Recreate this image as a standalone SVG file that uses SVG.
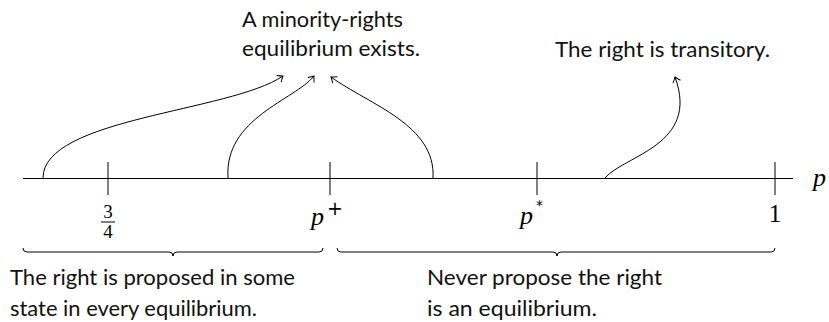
<svg xmlns="http://www.w3.org/2000/svg" width="829" height="322" viewBox="0 0 829 322">
<style>
.ln{stroke:#000;stroke-width:1;fill:none}
.lbl{font-family:Lato,"Open Sans","Liberation Sans",sans-serif;font-size:21px;fill:#111}
.m{font-family:"Liberation Serif","DejaVu Serif",serif;font-style:italic;font-size:26px;fill:#000}
.n{font-family:"Liberation Serif","DejaVu Serif",serif;font-size:25px;fill:#000}
.f{font-family:"Liberation Serif","DejaVu Serif",serif;font-size:19px;fill:#000}
.sup{font-family:"DejaVu Sans","Liberation Sans",sans-serif;fill:#000}
</style>
<defs>
<marker id="ah" viewBox="-7 -6 9 12" refX="0" refY="0" markerWidth="9" markerHeight="12" markerUnits="userSpaceOnUse" orient="auto">
<path d="M-5,-4 Q-1.8,-1.2 0,0 Q-1.8,1.2 -5,4" stroke="#000" stroke-width="1" fill="none"/>
</marker>
</defs>
<g id="axis">
<line class="ln" x1="23" y1="178.5" x2="793" y2="178.5"/>
<line class="ln" x1="108" y1="162" x2="108" y2="195"/>
<line class="ln" x1="330" y1="162" x2="330" y2="195"/>
<line class="ln" x1="537" y1="162" x2="537" y2="195"/>
<line class="ln" x1="775" y1="162" x2="775" y2="195"/>
<text class="m" x="813" y="186">p</text>
</g>
<g id="tick-labels">
<text class="f" x="108" y="218" text-anchor="middle">3</text>
<line class="ln" x1="101" y1="222" x2="115" y2="222" stroke-width="0.8"/>
<text class="f" x="108" y="238" text-anchor="middle">4</text>
<text class="m" x="311" y="225">p</text>
<text class="sup" x="327" y="215" font-size="19">+</text>
<text class="m" x="520" y="224">p</text>
<text class="sup" x="536" y="210" font-size="14">*</text>
<text class="n" x="775" y="222" text-anchor="middle">1</text>
</g>
<g id="connectors">
<path class="ln" d="M43,178 C43,118 230,112 283,76" marker-end="url(#ah)"/>
<path class="ln" d="M228,178 C224,118 295,100 314,76" marker-end="url(#ah)"/>
<path class="ln" d="M433,178 C436,125 370,105 331,77" marker-end="url(#ah)"/>
<path class="ln" d="M605,178 C625,155 700,145 675,77" marker-end="url(#ah)"/>
</g>
<g id="braces">
<path class="ln" d="M23,248 Q23,252 27,252 L169,252 Q173,252 173,256 Q173,252 177,252 L319,252 Q323,252 323,248"/>
<path class="ln" d="M337,248 Q337,252 341,252 L553,252 Q557,252 557,256 Q557,252 561,252 L771,252 Q775,252 775,248"/>
</g>
<g id="label-minority">
<text class="lbl" x="242" y="27" textLength="161" lengthAdjust="spacingAndGlyphs">A minority-rights</text>
<text class="lbl" x="242" y="56" textLength="178" lengthAdjust="spacingAndGlyphs">equilibrium exists.</text>
</g>
<g id="label-transitory">
<text class="lbl" x="555" y="57" textLength="215" lengthAdjust="spacingAndGlyphs">The right is transitory.</text>
</g>
<g id="label-proposed">
<text class="lbl" x="10" y="285" textLength="285" lengthAdjust="spacingAndGlyphs">The right is proposed in some</text>
<text class="lbl" x="10" y="316" textLength="247" lengthAdjust="spacingAndGlyphs">state in every equilibrium.</text>
</g>
<g id="label-never">
<text class="lbl" x="427" y="285" textLength="235" lengthAdjust="spacingAndGlyphs">Never propose the right</text>
<text class="lbl" x="427" y="316" textLength="170" lengthAdjust="spacingAndGlyphs">is an equilibrium.</text>
</g>
</svg>
